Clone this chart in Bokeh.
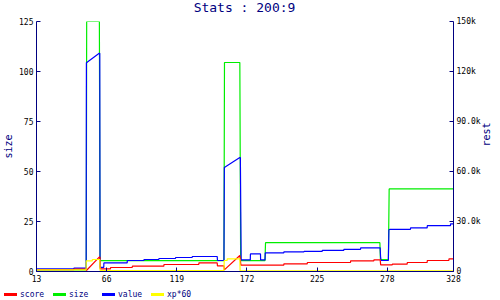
import math
from bokeh.plotting import figure
from bokeh.layouts import column
from bokeh.models import Range1d, LinearAxis, FixedTicker, Div
from bokeh.embed import file_html
from bokeh.resources import INLINE

# ---- data ----
title_text = "Stats : 200:9"
x_ticks = [13, 66, 119, 172, 225, 278, 328]
size_ticks = [0, 25, 50, 75, 100, 125]
rest_ticks = [0, 30000, 60000, 90000, 120000, 150000]
rest_labels = ["0", "30.0k", "60.0k", "90.0k", "120k", "150k"]

size_x = [13, 50.6, 50.9, 60.5, 61.0, 154.6, 155.0, 166.6, 167.2, 185.6, 186.0,
          272.4, 272.8, 278.8, 279.4, 328]
size_y = [0.8, 0.8, 125, 125, 5.4, 5.4, 104.5, 104.5, 5.4, 5.4, 14.4,
          14.4, 6.0, 6.0, 41.3, 41.3]

value_x = [13, 41.2, 41.3, 50.5, 50.7, 60.4, 60.8, 61.0, 63.8, 63.9, 81.5, 81.6,
           94.1, 94.2, 105.4, 105.5, 118, 118.1, 130.6, 130.7, 149.5, 149.7,
           154.6, 154.9, 166.6, 167.0, 167.6, 174.5, 174.6, 182.2, 182.3, 185.6,
           185.8, 199.8, 199.9, 215, 215.1, 228.8, 228.9, 245.1, 245.2, 257.8,
           257.9, 272.6, 272.9, 273.3, 278.8, 279.2, 280, 295.5, 295.6, 308.1,
           308.2, 325.7, 325.8, 328]
value_y = [1620, 1620, 1980, 1980, 125280, 130920, 130920, 2520, 2520, 5160, 5160, 6600,
           6600, 7200, 7200, 7800, 7800, 8400, 8400, 9000, 9000, 6600,
           6600, 62400, 68400, 68400, 6960, 6960, 10560, 10560, 6960, 6960,
           11160, 11160, 11760, 11760, 12120, 12120, 12720, 12720, 13320, 13320,
           14160, 14160, 9000, 6600, 6600, 24960, 25320, 25320, 26160, 26160,
           27480, 27480, 28560, 28560]

score_x = [13, 41.2, 41.3, 50.5, 50.7, 60.4, 60.9, 61.1, 68.9, 69.0, 85.3, 85.4,
           109.2, 109.3, 135.6, 135.7, 149.5, 149.7, 154.6, 154.9, 166.6, 167.4,
           199.8, 199.9, 217.5, 217.6, 250.2, 250.3, 267.8, 267.9, 272.6, 273.0,
           281.7, 281.8, 293, 293.1, 308.1, 308.2, 324.5, 324.6, 328]
score_y = [1080, 1080, 1440, 1440, 600, 8640, 8640, 1620, 1620, 2400, 2400, 3180,
           3180, 4200, 4200, 5160, 5160, 3360, 3360, 960, 9600, 3840,
           3840, 4560, 4560, 5400, 5400, 6360, 6360, 6960, 6960, 3960,
           3960, 4440, 4440, 5400, 5400, 6600, 6600, 7560, 7560]

xp_x = [13, 50.5, 50.6, 55.1, 55.2, 60.8, 61.0, 154.6, 154.8, 157, 157.1, 166.6, 166.8, 328]
xp_y = [1020, 1020, 6360, 6360, 7200, 7200, 600, 600, 6600, 6600, 7560, 7560, 360, 360]

series_names = ["score", "size", "value", "xp*60"]
series_colors = ["#ff0000", "#00ee00", "#0000ff", "#ffff00"]

FONT = "DejaVu Sans Mono"
NAVY = "#000080"
LW = 1.2

# title strip (HTML text), centred over the plot frame
title_div = Div(text=f'<div style="font-family:\'{FONT}\';font-size:13px;color:{NAVY};'
                     f'line-height:16px;width:417px;margin-left:36px;text-align:center;'
                     f'padding-top:0px;white-space:nowrap">{title_text}</div>',
                width=500, height=16, margin=0)

p = figure(width=500, height=269, output_backend="svg", toolbar_location=None,
           x_range=Range1d(13, 328), y_range=Range1d(0, 125),
           min_border_left=36, min_border_right=47, min_border_top=5,
           min_border_bottom=14)
p.extra_y_ranges = {"rest": Range1d(0, 150000)}

p.outline_line_color = None
p.grid.visible = False
p.background_fill_color = "white"
p.border_fill_color = "white"

def style_axis(ax):
    ax.axis_line_color = NAVY
    ax.major_tick_line_color = NAVY
    ax.minor_tick_line_color = None
    ax.major_tick_in = 4
    ax.major_tick_out = 0
    ax.major_label_text_font = FONT
    ax.major_label_text_font_size = "8px"
    ax.major_label_text_color = "black"
    ax.axis_label_text_font = FONT
    ax.axis_label_text_font_size = "10px"
    ax.axis_label_text_font_style = "normal"
    ax.axis_label_text_color = NAVY

xa = p.xaxis[0]
style_axis(xa)
xa.ticker = FixedTicker(ticks=x_ticks)
xa.major_label_standoff = 3

ya = p.yaxis[0]
style_axis(ya)
ya.ticker = FixedTicker(ticks=size_ticks)
ya.axis_label = "size"
ya.major_label_standoff = 3
ya.axis_label_standoff = 2

ra = LinearAxis(y_range_name="rest")
style_axis(ra)
ra.ticker = FixedTicker(ticks=rest_ticks)
ra.major_label_overrides = {t: l for t, l in zip(rest_ticks, rest_labels)}
ra.axis_label = "rest"
ra.axis_label_orientation = math.pi / 2
ra.major_label_standoff = 3
ra.axis_label_standoff = 3
p.add_layout(ra, "right")

p.line(size_x, size_y, line_color=series_colors[1], line_width=LW)
p.line(value_x, value_y, line_color=series_colors[2], line_width=LW, y_range_name="rest")
p.line(score_x, score_y, line_color=series_colors[0], line_width=LW, y_range_name="rest")
p.line(xp_x, xp_y, line_color=series_colors[3], line_width=LW, y_range_name="rest")

# legend strip below the chart (HTML text)
items_html = "".join(
    f'<span style="display:inline-block;width:49px;white-space:nowrap">'
    f'<span style="display:inline-block;width:13px;height:3px;background:{c};'
    f'vertical-align:middle;margin-right:3px"></span>{n}</span>'
    for n, c in zip(series_names, series_colors))
leg = Div(text=f'<div style="font-family:\'{FONT}\';font-size:8px;color:{NAVY};'
               f'line-height:10px;padding:4px 0 0 4px;white-space:nowrap">{items_html}</div>',
          width=500, height=15, margin=0)

layout = column(title_div, p, leg, spacing=0)
open("out.html", "w").write(file_html(layout, INLINE))
